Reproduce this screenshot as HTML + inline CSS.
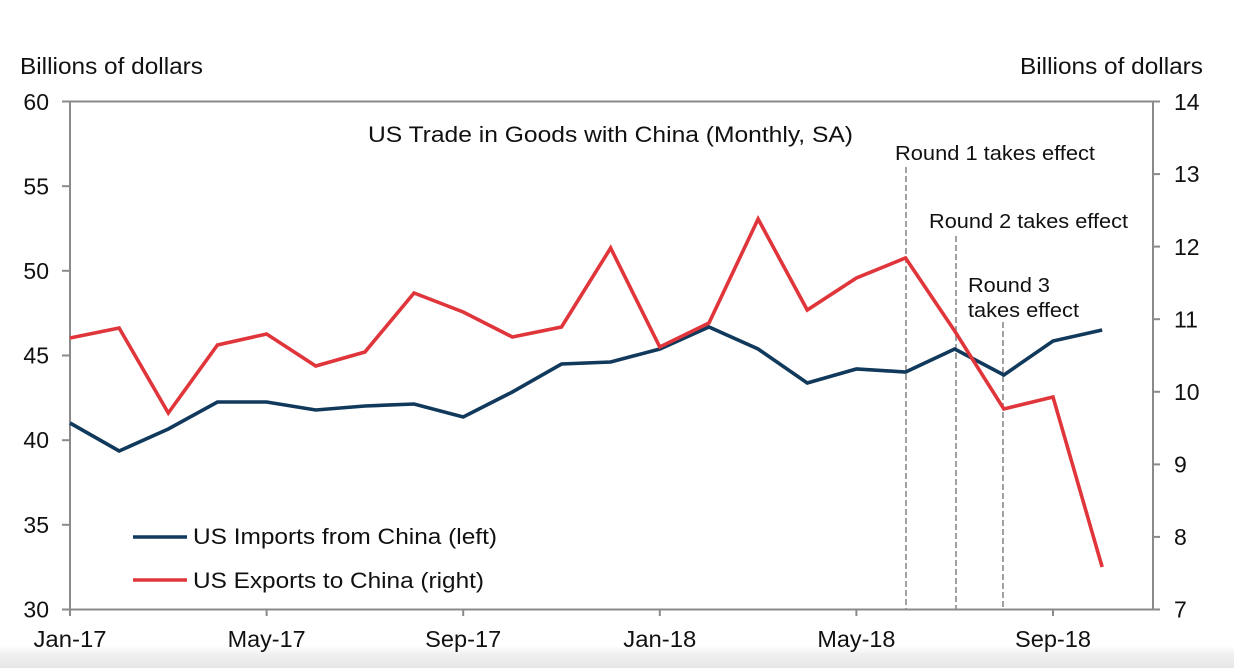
<!DOCTYPE html>
<html>
<head>
<meta charset="utf-8">
<style>
  html, body { margin: 0; padding: 0; background: #ffffff; }
  body { width: 1234px; height: 668px; overflow: hidden; }
  svg { display: block; }
  text { font-family: "Liberation Sans", Arial, sans-serif; fill: #111; }
</style>
</head>
<body>
<svg width="1234" height="668" viewBox="0 0 1234 668" xmlns="http://www.w3.org/2000/svg">
  <defs>
    <linearGradient id="bot" x1="0" y1="0" x2="0" y2="1">
      <stop offset="0" stop-color="#ffffff"/>
      <stop offset="0.35" stop-color="#f1f1f1"/>
      <stop offset="1" stop-color="#e6e6e6"/>
    </linearGradient>
  </defs>
  <rect x="0" y="0" width="1234" height="668" fill="#ffffff"/>
  <rect x="0" y="646" width="1234" height="22" fill="url(#bot)"/>

  <!-- Axis titles -->
  <text x="20" y="74" font-size="23" textLength="183" lengthAdjust="spacingAndGlyphs">Billions of dollars</text>
  <text x="1020" y="74" font-size="23" textLength="183" lengthAdjust="spacingAndGlyphs">Billions of dollars</text>

  <!-- Axes -->
  <g stroke="#8a8a8a" stroke-width="2" fill="none">
    <line x1="62" y1="101.5" x2="1160" y2="101.5"/>
    <line x1="70" y1="101.5" x2="70" y2="609.5"/>
    <line x1="1153" y1="101.5" x2="1153" y2="609.5"/>
    <line x1="62" y1="609.5" x2="1160" y2="609.5"/>
    <!-- left ticks -->
    <line x1="62" y1="186.2" x2="70" y2="186.2"/>
    <line x1="62" y1="270.8" x2="70" y2="270.8"/>
    <line x1="62" y1="355.5" x2="70" y2="355.5"/>
    <line x1="62" y1="440.2" x2="70" y2="440.2"/>
    <line x1="62" y1="524.8" x2="70" y2="524.8"/>
    <!-- right ticks -->
    <line x1="1153" y1="174.1" x2="1160" y2="174.1"/>
    <line x1="1153" y1="246.6" x2="1160" y2="246.6"/>
    <line x1="1153" y1="319.2" x2="1160" y2="319.2"/>
    <line x1="1153" y1="391.8" x2="1160" y2="391.8"/>
    <line x1="1153" y1="464.4" x2="1160" y2="464.4"/>
    <line x1="1153" y1="536.9" x2="1160" y2="536.9"/>
    <!-- bottom ticks -->
    <line x1="70" y1="609.5" x2="70" y2="616"/>
    <line x1="266.6" y1="609.5" x2="266.6" y2="616"/>
    <line x1="463.2" y1="609.5" x2="463.2" y2="616"/>
    <line x1="659.8" y1="609.5" x2="659.8" y2="616"/>
    <line x1="856.4" y1="609.5" x2="856.4" y2="616"/>
    <line x1="1053" y1="609.5" x2="1053" y2="616"/>
  </g>

  <!-- Left tick labels -->
  <g font-size="23" text-anchor="end">
    <text x="49" y="110">60</text>
    <text x="49" y="194.5">55</text>
    <text x="49" y="279">50</text>
    <text x="49" y="363.5">45</text>
    <text x="49" y="448">40</text>
    <text x="49" y="533">35</text>
    <text x="49" y="617.5">30</text>
  </g>
  <!-- Right tick labels -->
  <g font-size="23">
    <text x="1174" y="110">14</text>
    <text x="1174" y="182">13</text>
    <text x="1174" y="255">12</text>
    <text x="1174" y="327.5">11</text>
    <text x="1174" y="400">10</text>
    <text x="1174" y="472.5">9</text>
    <text x="1174" y="545">8</text>
    <text x="1174" y="617.5">7</text>
  </g>
  <!-- Bottom labels -->
  <g font-size="23" text-anchor="middle">
    <text x="70" y="647" textLength="73" lengthAdjust="spacingAndGlyphs">Jan-17</text>
    <text x="266.6" y="647" textLength="78" lengthAdjust="spacingAndGlyphs">May-17</text>
    <text x="463.2" y="647" textLength="76" lengthAdjust="spacingAndGlyphs">Sep-17</text>
    <text x="659.8" y="647" textLength="73" lengthAdjust="spacingAndGlyphs">Jan-18</text>
    <text x="856.4" y="647" textLength="78" lengthAdjust="spacingAndGlyphs">May-18</text>
    <text x="1053" y="647" textLength="76" lengthAdjust="spacingAndGlyphs">Sep-18</text>
  </g>

  <!-- Chart title -->
  <text x="368" y="142" font-size="22.5" textLength="485" lengthAdjust="spacingAndGlyphs">US Trade in Goods with China (Monthly, SA)</text>

  <!-- Dashed event lines -->
  <g stroke="#8a8a8a" stroke-width="1.6" stroke-dasharray="6,3" fill="none">
    <line x1="906" y1="167" x2="906" y2="609"/>
    <line x1="956" y1="236" x2="956" y2="609"/>
    <line x1="1003" y1="322" x2="1003" y2="609"/>
  </g>
  <g font-size="20">
    <text x="895" y="160" textLength="200" lengthAdjust="spacingAndGlyphs">Round 1 takes effect</text>
    <text x="929" y="228" textLength="199" lengthAdjust="spacingAndGlyphs">Round 2 takes effect</text>
    <text x="968" y="292" textLength="82" lengthAdjust="spacingAndGlyphs">Round 3</text>
    <text x="968" y="317" textLength="111" lengthAdjust="spacingAndGlyphs">takes effect</text>
  </g>

  <!-- Series: Imports (blue) -->
  <polyline fill="none" stroke="#10395c" stroke-width="3.6" stroke-linejoin="miter" stroke-linecap="butt"
    points="70,423 119.15,451 168.3,429 217.45,402 266.6,402 315.75,410 364.9,406 414.05,404 463.2,417 512.35,392 561.5,364 610.65,362 659.8,349 708.95,327 758.1,349 807.25,383 856.4,369 905.55,372 954.7,349 1003.85,375 1053,341 1102.15,330"/>
  <!-- Series: Exports (red) -->
  <polyline fill="none" stroke="#e0363b" stroke-width="3.6" stroke-linejoin="miter" stroke-linecap="butt"
    points="70,338 119.15,328 168.3,413 217.45,345 266.6,334 315.75,366 364.9,352 414.05,293 463.2,312 512.35,337 561.5,327 610.65,248 659.8,347 708.95,323 758.1,219 807.25,310 856.4,278 905.55,258 954.7,331 1003.85,409 1053,397 1102.15,567"/>

  <!-- Legend -->
  <line x1="133" y1="537" x2="187" y2="537" stroke="#10395c" stroke-width="3.6"/>
  <line x1="133" y1="580" x2="187" y2="580" stroke="#e0363b" stroke-width="3.6"/>
  <text x="193" y="544" font-size="22" textLength="304" lengthAdjust="spacingAndGlyphs">US Imports from China (left)</text>
  <text x="193" y="588" font-size="22" textLength="291" lengthAdjust="spacingAndGlyphs">US Exports to China (right)</text>
</svg>
</body>
</html>
